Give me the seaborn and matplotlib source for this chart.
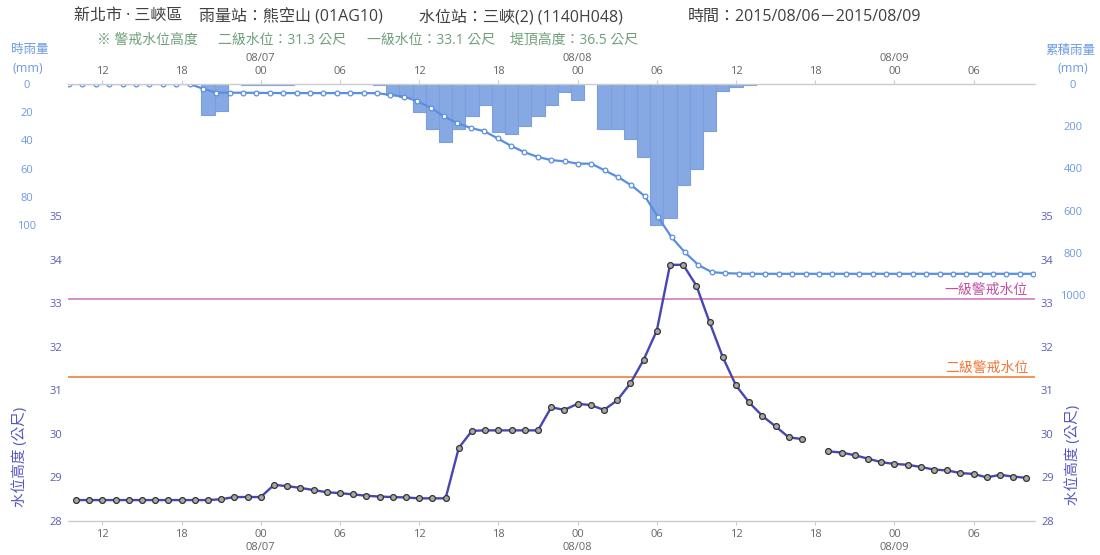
import numpy as np
import pandas as pd
import matplotlib
matplotlib.use("Agg")
import matplotlib.pyplot as plt
import matplotlib.transforms as mtransforms
import seaborn as sns

# ---------------- data ----------------
# hours counted from 2015/08/06 00:00
hours = list(range(10, 83))
water_level = [
    28.48, 28.48, 28.48, 28.48, 28.48, 28.48, 28.48, 28.48, 28.48, 28.48, 28.48,  # 10-20
    28.50, 28.55, 28.55, 28.55,                                                   # 21-24
    28.83, 28.80, 28.76, 28.71, 28.66, 28.64, 28.61, 28.58, 28.56, 28.55, 28.54,  # 25-35
    28.52, 28.52, 28.52,                                                          # 36-38
    29.68, 30.07, 30.08, 30.08, 30.08, 30.08, 30.08,                              # 39-45
    30.61, 30.55, 30.69, 30.66, 30.55, 30.77, 31.16, 31.70, 32.37,                # 46-54
    33.88, 33.88, 33.40, 32.56, 31.76, 31.11, 30.72, 30.41, 30.17, 29.92, 29.88,  # 55-65
    None,                                                                         # 66
    29.60, 29.57, 29.51, 29.43, 29.35, 29.31, 29.29, 29.24, 29.18, 29.16,         # 67-76
    29.10, 29.08, 29.00, 29.06, 29.02, 28.99,                                     # 77-82
]
rain_hours = [20, 21, 23, 24, 25, 26, 33, 34, 35, 36, 37, 38, 39, 40, 41, 42, 43, 44,
              45, 46, 47, 48, 50, 51, 52, 53, 54, 55, 56, 57, 58, 59, 60, 61]
rain_mm = [22, 19, 0.5, 0.5, 0.5, 0.5, 0.5, 8, 9, 20, 32, 41, 32, 23, 15, 34, 35.5, 30,
           22.5, 15, 6, 11, 32, 32, 39, 51.5, 100, 95, 71.5, 60, 33, 5, 2, 1]
cum_rain = [
    0, 0, 0, 0, 0, 0, 0, 0, 0, 0,                                   # 10-19
    22, 41, 41, 41.5, 42, 42.5, 43, 43, 43, 43, 43, 43, 43, 43.5,   # 20-33
    51.5, 60.5, 80.5, 112.5, 153.5, 185.5, 208.5, 223.5, 257.5,     # 34-42
    293, 323, 345.5, 360.5, 366.5, 377.5, 377.5, 409.5, 441.5,      # 43-51
    480.5, 532, 632, 727, 798.5, 858.5, 891.5, 896.5, 898.5, 899.5, # 52-61
    899.5, 899.5, 899.5, 899.5, 899.5, 899.5, 899.5, 899.5, 899.5,  # 62-70
    899.5, 899.5, 899.5, 899.5, 899.5, 899.5, 899.5, 899.5, 899.5,  # 71-79
    899.5, 899.5, 899.5,                                            # 80-82
]
tick_hours = [12, 18, 24, 30, 36, 42, 48, 54, 60, 66, 72, 78]
tick_labels = ["12", "18", "00", "06", "12", "18", "00", "06", "12", "18", "00", "06"]
date_labels = {24: "08/07", 48: "08/08", 72: "08/09"}
rain_ticks = [0, 20, 40, 60, 80, 100]
cum_ticks = [0, 200, 400, 600, 800, 1000]
level_ticks = [28, 29, 30, 31, 32, 33, 34, 35]
level_2nd = 31.3
level_1st = 33.1

# ---------------- style ----------------
sns.set_theme(style="white")
plt.rcParams['font.family'] = ['Open Sans', 'Noto Sans CJK TC', 'DejaVu Sans']

C_RAIN_TXT = '#6d9ae3'
C_BAR = '#87a9e3'
C_BAR_EDGE = '#7a9ee0'
C_CUM = '#5a8fe0'
C_WATER = '#4646b4'
C_WATER_TXT = '#5c5cb8'
C_PINK = '#d486c8'
C_PINK_TXT = '#c2509e'
C_ORANGE = '#f28a4a'
C_ORANGE_TXT = '#f07838'
C_TICK = '#666666'
C_AXIS = '#cccccc'

W, H = 1100, 555
fig = plt.figure(figsize=(W / 100, H / 100), dpi=100)
L, R, T, B = 68, 1035, 84, 521
rect = [L / W, 1 - B / H, (R - L) / W, (B - T) / H]

ax_r = fig.add_axes(rect)   # hourly rain bars
ax_c = fig.add_axes(rect)   # cumulative rain
ax_w = fig.add_axes(rect)   # water level

for a in (ax_r, ax_c, ax_w):
    a.patch.set_alpha(0)
    for s in a.spines.values():
        s.set_visible(False)

XL_MAIN = (9.394, 82.65)
XL_CUM = (9.925, 82.13)

# ---- rain bars ----
sns.barplot(x=rain_hours, y=rain_mm, native_scale=True, orient="x", width=1,
            color=C_BAR, edgecolor=C_BAR_EDGE, linewidth=0.8, saturation=1,
            errorbar=None, ax=ax_r)
ax_r.set_xlim(*XL_MAIN)
ax_r.set_ylim(310, 0)
ax_r.set_xlabel("")
ax_r.set_ylabel("")
top_labels = [f"{date_labels[h]}\n{l}" if h in date_labels else l
              for h, l in zip(tick_hours, tick_labels)]
ax_r.xaxis.tick_top()
ax_r.set_xticks(tick_hours, labels=top_labels)
ax_r.tick_params(axis='x', top=True, bottom=False, length=3, width=0.8,
                 color=C_AXIS, labelsize=8, labelcolor=C_TICK, pad=2)
ax_r.set_yticks(rain_ticks, labels=[str(v) for v in rain_ticks], ha='center')
ax_r.tick_params(axis='y', left=False, right=False, length=0, labelsize=8,
                 labelcolor=C_RAIN_TXT, pad=29.5)

# ---- cumulative rain ----
sns.lineplot(x=hours, y=cum_rain, estimator=None, ax=ax_c, color=C_CUM, lw=1.6,
             marker='o', markersize=3.4, markerfacecolor='white',
             markeredgecolor=C_CUM, markeredgewidth=0.9, legend=False)
ax_c.set_xlim(*XL_CUM)
ax_c.set_ylim(2071, 0)
ax_c.set_xlabel("")
ax_c.set_ylabel("")
ax_c.set_xticks([])
ax_c.yaxis.tick_right()
ax_c.set_yticks(cum_ticks, labels=[str(v) for v in cum_ticks], ha='center')
ax_c.tick_params(axis='y', left=False, right=False, length=0, labelsize=8,
                 labelcolor=C_RAIN_TXT, pad=27.4)

# ---- water level ----
df = pd.DataFrame({"hour": hours, "level": water_level}, dtype=float)
df["seg"] = df["level"].isna().cumsum()
df = df.dropna()
ax_w.axhline(level_1st, color=C_PINK, lw=1.3, zorder=1)
ax_w.axhline(level_2nd, color=C_ORANGE, lw=1.3, zorder=1)
sns.lineplot(data=df, x="hour", y="level", units="seg", estimator=None, ax=ax_w,
             color=C_WATER, lw=1.7, marker='o', markersize=4.2,
             markerfacecolor='#a8a8a8', markeredgecolor='#333333',
             markeredgewidth=0.9, legend=False, zorder=3)
ax_w.set_xlim(*XL_MAIN)
ax_w.set_ylim(28, 38.03)
ax_w.set_xlabel("")
ax_w.set_ylabel("")
bottom_labels = [f"{l}\n{date_labels[h]}" if h in date_labels else l
                 for h, l in zip(tick_hours, tick_labels)]
ax_w.set_xticks(tick_hours, labels=bottom_labels)
ax_w.tick_params(axis='x', bottom=True, top=False, length=3, width=0.8,
                 color=C_AXIS, labelsize=8, labelcolor=C_TICK, pad=3)
ax_w.set_yticks(level_ticks, labels=[str(v) for v in level_ticks])
ax_w.tick_params(axis='y', left=False, right=False, length=0, labelleft=True,
                 labelright=True, labelsize=8, labelcolor=C_WATER_TXT, pad=4.3)
for s in ('top', 'bottom'):
    ax_w.spines[s].set_visible(True)
    ax_w.spines[s].set_color(C_AXIS)
    ax_w.spines[s].set_linewidth(1.0)

blend = mtransforms.blended_transform_factory(ax_w.transAxes, ax_w.transData)
ax_w.text(0.9928, level_1st + 0.03, "一級警戒水位", transform=blend, ha='right',
          va='bottom', fontsize=10, color=C_PINK_TXT)
ax_w.text(0.9928, level_2nd + 0.03, "二級警戒水位", transform=blend, ha='right',
          va='bottom', fontsize=10, color=C_ORANGE_TXT)

# ---------------- texts ----------------
def ftext(x, y, s, **kw):
    fig.text(x / W, 1 - y / H, s, **kw)

hdr = dict(fontsize=11.5, color='#404040', va='center', ha='left')
ftext(74, 17, "新北市 · 三峽區", **hdr)
ftext(199, 17, "雨量站：熊空山 (01AG10)", **hdr)
ftext(419, 17, "水位站：三峽(2) (1140H048)", **hdr)
ftext(688, 17, "時間：2015/08/06－2015/08/09", **hdr)

sub = dict(fontsize=10, color='#6f9f7a', va='center', ha='left')
ftext(97, 40, "※ 警戒水位高度", **sub)
ftext(218, 40, "二級水位：31.3 公尺", **sub)
ftext(367, 40, "一級水位：33.1 公尺", **sub)
ftext(510, 40, "堤頂高度：36.5 公尺", **sub)

ax_t = dict(fontsize=9, color=C_RAIN_TXT, va='center', ha='center')
ftext(30, 50, "時雨量", **ax_t)
ftext(28, 68, "(mm)", **ax_t)
ftext(1070, 50, "累積雨量", **ax_t)
ftext(1073, 68, "(mm)", **ax_t)

wt = dict(fontsize=10.5, color='#5555c0', va='center', ha='center', rotation=90)
ftext(20, 457, "水位高度 (公尺)", **wt)
ftext(1073, 455, "水位高度 (公尺)", **wt)

fig.savefig("out.png", dpi=100)
